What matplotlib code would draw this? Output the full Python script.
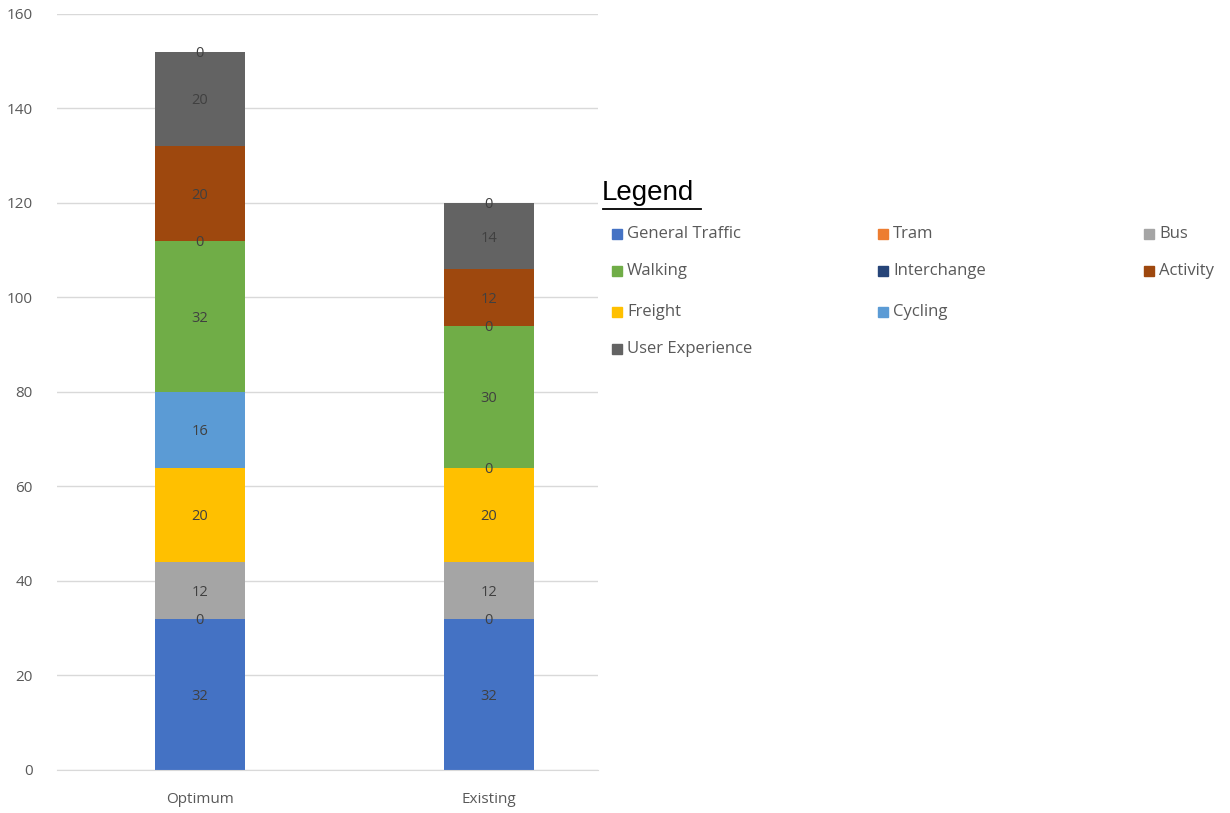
import matplotlib.pyplot as plt
from matplotlib.patches import Rectangle
from matplotlib.lines import Line2D
import numpy as np

categories = ['Optimum', 'Existing']

# series in stacking order (bottom -> top)
stack_names = ['General Traffic', 'Tram', 'Bus', 'Freight', 'Cycling',
               'Walking', 'Interchange', 'Activity', 'User Experience', '_blank']
general_traffic = [32, 32]
tram = [0, 0]
bus = [12, 12]
freight = [20, 20]
cycling = [16, 0]
walking = [32, 30]
interchange = [0, 0]
activity = [20, 12]
user_experience = [20, 14]
blank = [0, 0]
stack_values = [general_traffic, tram, bus, freight, cycling,
                walking, interchange, activity, user_experience, blank]

colors = {
    'General Traffic': '#4472c4', 'Tram': '#ed7d31', 'Bus': '#a5a5a5',
    'Walking': '#70ad47', 'Interchange': '#264478', 'Activity': '#9e480e',
    'Freight': '#ffc000', 'Cycling': '#5b9bd5', 'User Experience': '#636363',
    '_blank': '#636363',
}
legend_order = ['General Traffic', 'Tram', 'Bus', 'Walking', 'Interchange',
                'Activity', 'Freight', 'Cycling', 'User Experience']
# (row, col) of each legend entry, as laid out in the original
legend_cells = [(0, 0), (0, 1), (0, 2), (1, 0), (1, 1), (1, 2),
                (2, 0), (2, 1), (3, 0)]

plt.rcParams['font.family'] = ['Open Sans', 'DejaVu Sans']

fig = plt.figure(figsize=(12.3, 8.13), dpi=100)
ax = fig.add_axes([0.046, 0.0529, 0.44, 0.93])

x = np.arange(len(categories))
bottom = np.zeros(len(categories))
for name, vals in zip(stack_names, stack_values):
    vals = np.array(vals, dtype=float)
    ax.bar(x, vals, 0.311, bottom=bottom, color=colors[name], zorder=2)
    for xi, b, v in zip(x, bottom, vals):
        ax.text(xi, b + v / 2, '%d' % v, ha='center', va='center_baseline',
                fontsize=10.5, color='#404040', zorder=3)
    bottom += vals

ax.set_xlim(-0.495, 1.377)
ax.set_ylim(0, 160)
ax.set_yticks(range(0, 161, 20))
ax.set_xticks(x)
ax.set_xticklabels(categories)
ax.grid(axis='y', color='#d9d9d9', linewidth=1, zorder=0)
for s in ['top', 'right', 'left']:
    ax.spines[s].set_visible(False)
ax.spines['bottom'].set_color('#d9d9d9')
ax.tick_params(axis='both', length=0, colors='#595959', labelsize=11)
ax.tick_params(axis='y', pad=17)
ax.tick_params(axis='x', pad=16)

# legend drawn by hand, row by row like the original
fig.text(602 / 1230, 1 - 193 / 813, 'Legend', fontsize=20, va='center',
         ha='left', family='Liberation Sans', color='black')
fig.add_artist(Line2D([603 / 1230, 701 / 1230], [1 - 209 / 813, 1 - 209 / 813],
                      color='black', linewidth=1.3))
col_x = [617, 883, 1149]
row_y = [234, 271, 312, 349]
for name, (r, c) in zip(legend_order, legend_cells):
    cx = col_x[c]
    cy = row_y[r]
    fig.add_artist(Rectangle(((cx - 5) / 1230, 1 - (cy + 5) / 813), 10 / 1230, 10 / 813,
                             color=colors[name], transform=fig.transFigure))
    fig.text((cx + 10) / 1230, 1 - cy / 813, name, fontsize=12, va='center',
             ha='left', color='#595959')

fig.savefig('out.png', dpi=100)
